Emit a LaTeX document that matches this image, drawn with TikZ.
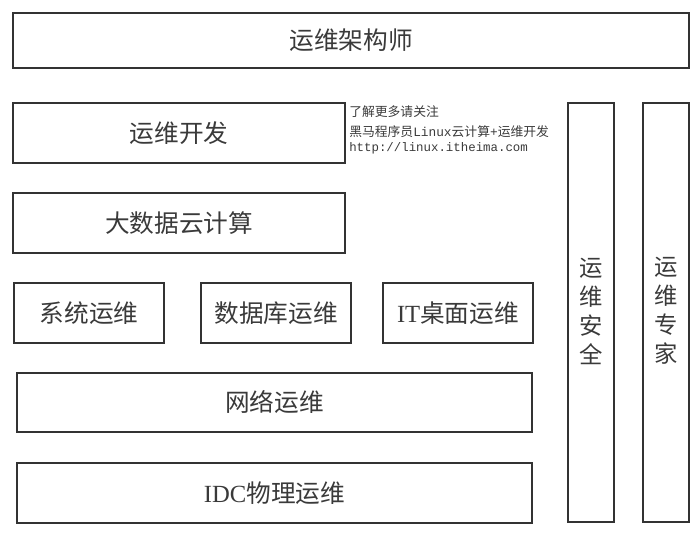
\documentclass[tikz,border=0pt]{standalone}
\usepackage{fontspec}
\setmainfont{Noto Sans CJK SC}
\newfontfamily\latinfont{Liberation Serif}
\newfontfamily\monofont{Liberation Mono}
\usepackage{xcolor}
\definecolor{linegray}{HTML}{333333}
\definecolor{textgray}{HTML}{3A3A3A}

\tikzset{
  box/.style={draw=linegray, line width=1.1pt},
  lab/.style={text=textgray, font=\fontsize{18.5}{22}\selectfont, inner sep=0pt},
  vlab/.style={text=textgray, font=\fontsize{17.5}{21.75}\selectfont, align=center, inner sep=0pt},
  note/.style={text=textgray, anchor=base west, inner sep=0pt, font=\fontsize{9.6}{11}\selectfont}
}

\begin{document}
\begin{tikzpicture}[line cap=rect,x=0.75pt,y=-0.75pt]
\useasboundingbox (0,0) rectangle (700,544);
\draw[box] (13,13) rectangle (689,68) node[midway,lab] (jiagou) {运维架构师};
\draw[box] (13,103) rectangle (345,163) node[midway,lab] (kaifa) {运维开发};
\draw[box] (13,193) rectangle (345,253) node[midway,lab] (dashuju) {大数据云计算};
\draw[box] (14,283) rectangle (164,343) node[midway,lab] (xitong) {系统运维};
\draw[box] (201,283) rectangle (351,343) node[midway,lab] (shujuku) {数据库运维};
\draw[box] (383,283) rectangle (533,343) node[midway,lab] (zhuomian) {{\latinfont IT}桌面运维};
\draw[box] (17,373) rectangle (532,432) node[midway,lab] (wangluo) {网络运维};
\draw[box] (17,463) rectangle (532,523) node[midway,lab] (idc) {{\latinfont IDC}物理运维};
% right columns
\draw[box] (568,103) rectangle (614,522);
\node[vlab] (anquan) at (591,311) {运\\维\\安\\全};
\draw[box] (643,103) rectangle (689,522);
\node[vlab] (zhuanjia) at (666,311) {运\\维\\专\\家};
% note
\node[note] (note1) at (349,116) {了解更多请关注};
\node[note] (note2) at (349,136) {黑马程序员{\monofont Linux}云计算{\monofont +}运维开发};
\node[note] (note3) at (349,151) {\monofont\fontsize{9.3}{11}\selectfont http://linux.itheima.com};
\end{tikzpicture}
\end{document}
